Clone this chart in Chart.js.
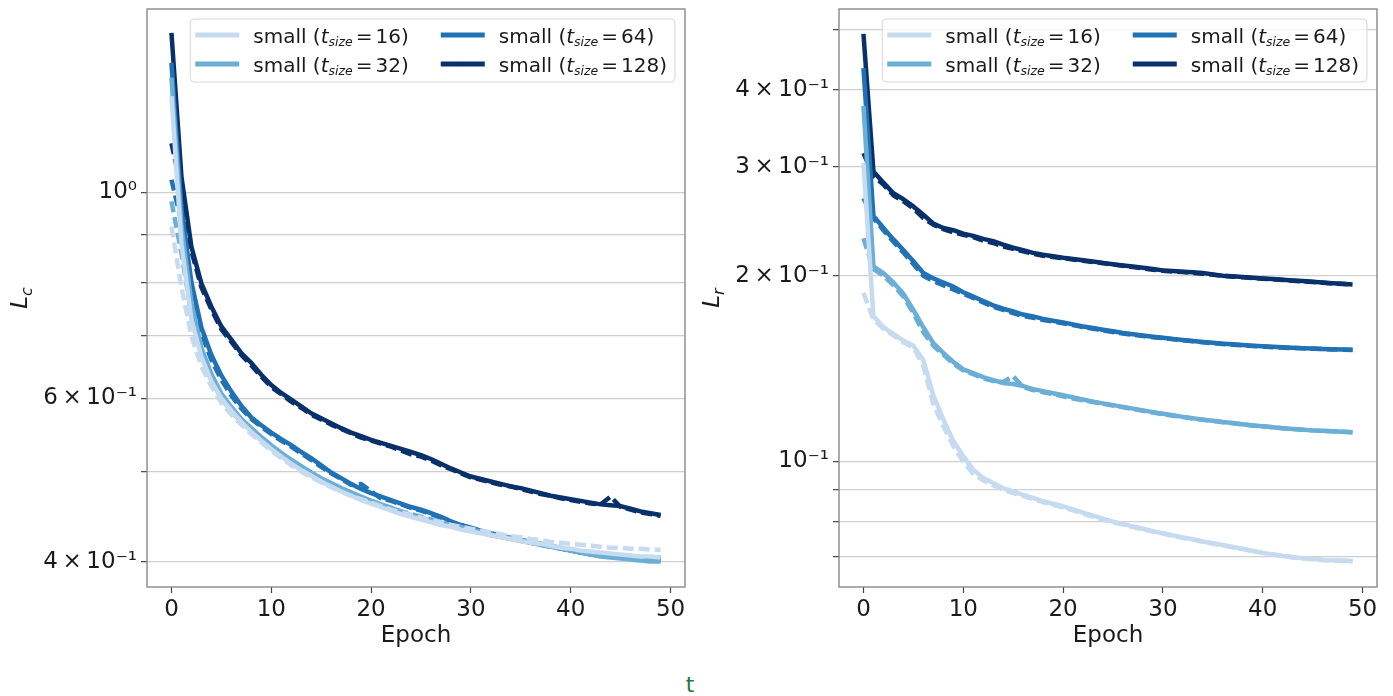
<!DOCTYPE html>
<html lang="en">

<head>
    <meta charset="UTF-8" />
    <title>Loss per epoch</title>
    <script src="https://cdn.jsdelivr.net/npm/chart.js"></script>
    <style>
        body { margin: 0; background: #fff; width: 1393px; height: 696px; position: relative; overflow: hidden; }
        .panel { position: absolute; top: 0; width: 692px; height: 660px; }
        #leftPanel { left: 0; }
        #rightPanel { left: 692px; }
        #caption { position: absolute; left: 670px; width: 40px; top: 674px; text-align: center;
                   font: 22px/22px 'DejaVu Sans', sans-serif; color: #1f7a35; }
    </style>
</head>

<body>
    <div class="panel" id="leftPanel"><canvas id="lcChart"></canvas></div>
    <div class="panel" id="rightPanel"><canvas id="lrChart"></canvas></div>
    <div id="caption">t</div>

    <script>
        const epochs = [0, 1, 2, 3, 4, 5, 6, 7, 8, 9, 10, 11, 12, 13, 14, 15, 16, 17, 18, 19,
            20, 21, 22, 23, 24, 25, 26, 27, 28, 29, 30, 31, 32, 33, 34, 35, 36, 37, 38, 39,
            40, 41, 42, 43, 44, 45, 46, 47, 48, 49];
        const tokenSizes = [16, 32, 64, 128];
        const seriesColors = ['#c6dbef', '#6baed6', '#2171b5', '#08306b'];
        const xTickValues = [0, 10, 20, 30, 40, 50];

        // y ticks: every value gets a grid line, only some get a label
        const lcTickValues = [0.4, 0.5, 0.6, 0.7, 0.8, 0.9, 1];
        const lcTickLabels = ['4\u2009×\u200910⁻¹', '', '6\u2009×\u200910⁻¹', '', '', '', '10⁰'];
        const lrTickValues = [0.07, 0.08, 0.09, 0.1, 0.2, 0.3, 0.4, 0.5];
        const lrTickLabels = ['', '', '', '10⁻¹', '2\u2009×\u200910⁻¹', '3\u2009×\u200910⁻¹', '4\u2009×\u200910⁻¹', ''];

        // L_c, solid and dashed runs
        const lc16 = [1.27, 0.88, 0.73, 0.665, 0.626, 0.600, 0.582, 0.566, 0.552, 0.540,
            0.529, 0.519, 0.510, 0.502, 0.495, 0.488, 0.482, 0.476, 0.471, 0.466,
            0.462, 0.458, 0.454, 0.450, 0.447, 0.444, 0.441, 0.438, 0.436, 0.433,
            0.431, 0.429, 0.427, 0.425, 0.423, 0.421, 0.419, 0.418, 0.416, 0.414,
            0.413, 0.411, 0.410, 0.409, 0.408, 0.407, 0.406, 0.405, 0.405, 0.404];
        const lc16Dashed = [0.919, 0.79, 0.70, 0.649, 0.618, 0.593, 0.576, 0.562, 0.549, 0.538,
            0.527, 0.517, 0.508, 0.500, 0.493, 0.487, 0.481, 0.476, 0.471, 0.467,
            0.463, 0.459, 0.455, 0.452, 0.449, 0.446, 0.443, 0.441, 0.438, 0.436,
            0.434, 0.432, 0.430, 0.428, 0.426, 0.425, 0.423, 0.422, 0.420, 0.419,
            0.418, 0.417, 0.416, 0.415, 0.414, 0.414, 0.413, 0.413, 0.412, 0.412];
        const lc32 = [1.33, 0.92, 0.76, 0.68, 0.637, 0.607, 0.587, 0.570, 0.557, 0.545,
            0.534, 0.524, 0.515, 0.507, 0.499, 0.492, 0.486, 0.480, 0.475, 0.470,
            0.465, 0.461, 0.457, 0.453, 0.449, 0.446, 0.443, 0.440, 0.437, 0.434,
            0.432, 0.430, 0.427, 0.425, 0.423, 0.421, 0.419, 0.417, 0.415, 0.413,
            0.411, 0.409, 0.407, 0.405, 0.404, 0.403, 0.402, 0.401, 0.400, 0.400];
        const lc32Dashed = [0.978, 0.86, 0.74, 0.668, 0.628, 0.600, 0.581, 0.566, 0.553, 0.542,
            0.531, 0.522, 0.513, 0.505, 0.498, 0.491, 0.485, 0.479, 0.474, 0.469,
            0.465, 0.461, 0.457, 0.453, 0.450, 0.447, 0.444, 0.441, 0.438, 0.436,
            0.433, 0.431, 0.428, 0.426, 0.424, 0.422, 0.420, 0.418, 0.416, 0.414,
            0.412, 0.410, 0.408, 0.407, 0.406, 0.405, 0.404, 0.403, 0.402, 0.402];
        const lc64 = [1.38, 0.96, 0.80, 0.715, 0.668, 0.635, 0.610, 0.589, 0.572, 0.561,
            0.551, 0.542, 0.534, 0.525, 0.517, 0.508, 0.499, 0.492, 0.485, 0.479,
            0.474, 0.470, 0.466, 0.462, 0.458, 0.455, 0.451, 0.447, 0.442, 0.438,
            0.435, 0.432, 0.429, 0.427, 0.424, 0.422, 0.420, 0.418, 0.416, 0.413,
            0.411, 0.409, 0.407, 0.406, 0.405, 0.404, 0.403, 0.402, 0.402, 0.401];
        const lc64Dashed = [1.032, 0.93, 0.79, 0.705, 0.660, 0.628, 0.604, 0.585, 0.570, 0.559,
            0.549, 0.540, 0.532, 0.523, 0.515, 0.506, 0.498, 0.491, 0.484, 0.485,
            0.476, 0.468, 0.465, 0.461, 0.457, 0.454, 0.450, 0.446, 0.441, 0.438,
            0.434, 0.431, 0.429, 0.426, 0.424, 0.422, 0.419, 0.417, 0.415, 0.413,
            0.411, 0.409, 0.408, 0.407, 0.406, 0.405, 0.405, 0.404, 0.404, 0.404];
        const lc128 = [1.486, 1.040, 0.874, 0.798, 0.753, 0.717, 0.694, 0.671, 0.655, 0.636,
            0.620, 0.608, 0.598, 0.588, 0.578, 0.571, 0.564, 0.557, 0.551, 0.546,
            0.541, 0.537, 0.533, 0.529, 0.525, 0.521, 0.516, 0.510, 0.504, 0.499,
            0.494, 0.491, 0.488, 0.485, 0.482, 0.480, 0.477, 0.474, 0.471, 0.469,
            0.467, 0.465, 0.463, 0.461, 0.460, 0.459, 0.456, 0.453, 0.451, 0.449];
        const lc128Dashed = [1.130, 1.010, 0.865, 0.790, 0.748, 0.712, 0.690, 0.668, 0.651, 0.633,
            0.617, 0.606, 0.595, 0.586, 0.576, 0.569, 0.562, 0.556, 0.550, 0.544,
            0.540, 0.536, 0.532, 0.527, 0.522, 0.519, 0.514, 0.508, 0.503, 0.498,
            0.493, 0.490, 0.487, 0.484, 0.482, 0.479, 0.476, 0.473, 0.471, 0.468,
            0.466, 0.464, 0.462, 0.461, 0.470, 0.458, 0.455, 0.452, 0.450, 0.448];

        // L_r, solid and dashed runs
        const lr16 = [0.3045, 0.172, 0.165, 0.161, 0.157, 0.154, 0.146, 0.128, 0.117, 0.108,
            0.102, 0.097, 0.094, 0.0923, 0.0905, 0.0894, 0.0883, 0.0873, 0.0862, 0.0854,
            0.0846, 0.0836, 0.0826, 0.0817, 0.0808, 0.0799, 0.0792, 0.0785, 0.0778, 0.0771,
            0.0765, 0.0759, 0.0753, 0.0748, 0.0742, 0.0737, 0.0732, 0.0727, 0.0722, 0.0716,
            0.0711, 0.0707, 0.0703, 0.0700, 0.0697, 0.0695, 0.0693, 0.0692, 0.0691, 0.0690];
        const lr16Dashed = [0.1875, 0.170, 0.164, 0.160, 0.156, 0.153, 0.143, 0.124, 0.114, 0.106,
            0.100, 0.0955, 0.0932, 0.0915, 0.0900, 0.0889, 0.0879, 0.0869, 0.0859, 0.0851,
            0.0843, 0.0833, 0.0823, 0.0814, 0.0805, 0.0797, 0.0790, 0.0783, 0.0776, 0.0770,
            0.0764, 0.0758, 0.0752, 0.0747, 0.0741, 0.0736, 0.0731, 0.0726, 0.0721, 0.0716,
            0.0711, 0.0707, 0.0703, 0.0699, 0.0696, 0.0694, 0.0692, 0.0691, 0.0690, 0.0689];
        const lr32 = [0.377, 0.207, 0.202, 0.195, 0.187, 0.176, 0.165, 0.1555, 0.150, 0.145,
            0.141, 0.139, 0.137, 0.1355, 0.134, 0.1335, 0.1325, 0.131, 0.130, 0.129,
            0.128, 0.127, 0.126, 0.125, 0.1242, 0.1234, 0.1226, 0.1218, 0.121, 0.1202,
            0.1195, 0.1188, 0.1181, 0.1175, 0.1169, 0.1164, 0.1159, 0.1154, 0.1149, 0.1144,
            0.114, 0.1136, 0.1132, 0.1129, 0.1126, 0.1123, 0.1121, 0.1119, 0.1117, 0.1115];
        const lr32Dashed = [0.230, 0.205, 0.200, 0.193, 0.185, 0.174, 0.162, 0.154, 0.149, 0.144,
            0.1405, 0.1385, 0.1365, 0.135, 0.1345, 0.1375, 0.132, 0.1305, 0.1295, 0.1285,
            0.1275, 0.1265, 0.1256, 0.1248, 0.124, 0.1232, 0.1224, 0.1216, 0.1208, 0.120,
            0.1193, 0.1186, 0.118, 0.1174, 0.1168, 0.1163, 0.1158, 0.1153, 0.1148, 0.1144,
            0.114, 0.1136, 0.1132, 0.1129, 0.1126, 0.1123, 0.1121, 0.1119, 0.1117, 0.1115];
        const lr64 = [0.434, 0.250, 0.239, 0.229, 0.220, 0.211, 0.202, 0.198, 0.195, 0.192,
            0.188, 0.185, 0.182, 0.179, 0.1768, 0.175, 0.173, 0.1718, 0.1702, 0.169,
            0.168, 0.1668, 0.1655, 0.1645, 0.1635, 0.1625, 0.1615, 0.1607, 0.160, 0.1593,
            0.1587, 0.158, 0.1574, 0.1568, 0.1562, 0.1557, 0.1552, 0.1548, 0.1544, 0.154,
            0.1537, 0.1534, 0.1531, 0.1528, 0.1526, 0.1524, 0.1522, 0.152, 0.1518, 0.1517];
        const lr64Dashed = [0.267, 0.248, 0.237, 0.227, 0.218, 0.209, 0.200, 0.196, 0.193, 0.190,
            0.187, 0.184, 0.181, 0.178, 0.176, 0.174, 0.172, 0.171, 0.1695, 0.1685,
            0.1675, 0.1663, 0.1651, 0.1641, 0.1631, 0.1621, 0.1612, 0.1604, 0.1597, 0.159,
            0.1584, 0.1578, 0.1572, 0.1566, 0.156, 0.1555, 0.155, 0.1546, 0.1542, 0.1538,
            0.1535, 0.1532, 0.1529, 0.1527, 0.1525, 0.1523, 0.1521, 0.1519, 0.1517, 0.1516];
        const lr128 = [0.493, 0.295, 0.283, 0.272, 0.266, 0.259, 0.251, 0.243, 0.239, 0.237,
            0.234, 0.232, 0.2295, 0.2275, 0.2245, 0.222, 0.220, 0.2178, 0.2162, 0.215,
            0.2138, 0.2128, 0.2118, 0.2108, 0.2098, 0.2088, 0.2078, 0.2069, 0.206, 0.2051,
            0.204, 0.2035, 0.203, 0.2025, 0.202, 0.201, 0.200, 0.1995, 0.199, 0.1985,
            0.198, 0.1975, 0.197, 0.1965, 0.196, 0.1955, 0.195, 0.1945, 0.194, 0.1935];
        const lr128Dashed = [0.316, 0.290, 0.281, 0.270, 0.264, 0.257, 0.248, 0.242, 0.238, 0.235,
            0.233, 0.231, 0.228, 0.226, 0.223, 0.221, 0.219, 0.217, 0.2155, 0.2145,
            0.2135, 0.2125, 0.2115, 0.2105, 0.2095, 0.2085, 0.2075, 0.2065, 0.2055, 0.2045,
            0.2038, 0.2032, 0.2027, 0.2021, 0.2015, 0.2007, 0.1998, 0.1993, 0.1988, 0.1983,
            0.1978, 0.1973, 0.1968, 0.1963, 0.1958, 0.1953, 0.1948, 0.1943, 0.1939, 0.1935];

        const FONT = "'DejaVu Sans', sans-serif";
        Chart.defaults.font.family = FONT;
        Chart.defaults.color = '#1a1a1a';

        // legend entry: small (t_size = N), drawn piece by piece for the subscript
        function drawEntryText(ctx, x, y, size, measureOnly) {
            const parts = [
                { t: 'small (', f: '20px ' + FONT, dy: 0, pad: 0 },
                { t: 't', f: 'italic 20px ' + FONT, dy: 0, pad: 0 },
                { t: 'size', f: 'italic 12.5px ' + FONT, dy: 3.5, pad: 3 },
                { t: '=', f: '20px ' + FONT, dy: 0, pad: 3 },
                { t: size + ')', f: '20px ' + FONT, dy: 0, pad: 0 }
            ];
            let cx = x;
            parts.forEach(p => {
                ctx.font = p.f;
                if (!measureOnly) ctx.fillText(p.t, cx, y + p.dy);
                cx += ctx.measureText(p.t).width + p.pad;
            });
            return cx - x;
        }

        const panelDecor = {
            id: 'panelDecor',
            afterDatasetsDraw(chart) {
                const { ctx, chartArea: a } = chart;
                ctx.save();
                // axes frame
                ctx.strokeStyle = '#808080';
                ctx.lineWidth = 1.3;
                ctx.strokeRect(a.left, a.top, a.right - a.left, a.bottom - a.top);

                // legend box, two columns, anchored to the upper right corner
                ctx.textBaseline = 'alphabetic';
                ctx.fillStyle = '#1a1a1a';
                const widths = tokenSizes.map(s => drawEntryText(ctx, 0, 0, s, true));
                const handle = 44, padL = 5, gap = 14, colGap = 32, padR = 8;
                const col1 = Math.max(widths[0], widths[1]);
                const col2 = Math.max(widths[2], widths[3]);
                const w = padL + handle + gap + col1 + colGap + handle + gap + col2 + padR;
                const h = 63;
                const x0 = a.right - 10 - w, y0 = a.top + 10;
                ctx.beginPath();
                ctx.roundRect(x0, y0, w, h, 4);
                ctx.fillStyle = 'rgba(255,255,255,0.8)';
                ctx.fill();
                ctx.strokeStyle = '#d6d6d6';
                ctx.lineWidth = 1;
                ctx.stroke();

                const colX = [x0 + padL, x0 + padL + handle + gap + col1 + colGap];
                const rowY = [y0 + 16, y0 + 45];
                tokenSizes.forEach((size, i) => {
                    const cx = colX[Math.floor(i / 2)], cy = rowY[i % 2];
                    ctx.strokeStyle = seriesColors[i];
                    ctx.lineWidth = 5;
                    ctx.beginPath();
                    ctx.moveTo(cx, cy);
                    ctx.lineTo(cx + handle, cy);
                    ctx.stroke();
                    ctx.fillStyle = '#1a1a1a';
                    drawEntryText(ctx, cx + handle + gap, cy + 7.7, size, false);
                });
                ctx.restore();
            },
            afterDraw(chart, args, opts) {
                // rotated y-axis title with an italic subscript
                const { ctx, chartArea: a } = chart;
                ctx.save();
                ctx.fillStyle = '#1a1a1a';
                ctx.textBaseline = 'alphabetic';
                ctx.font = 'italic 23px ' + FONT;
                const wMain = ctx.measureText(opts.symbol).width;
                ctx.font = 'italic 16px ' + FONT;
                const wSub = ctx.measureText(opts.sub).width;
                ctx.translate(27, (a.top + a.bottom) / 2 + (wMain + wSub) / 2);
                ctx.rotate(-Math.PI / 2);
                ctx.font = 'italic 23px ' + FONT;
                ctx.fillText(opts.symbol, 0, 0);
                ctx.font = 'italic 16px ' + FONT;
                ctx.fillText(opts.sub, wMain, 5);
                ctx.restore();
            }
        };

        function lineSet(values, color, dash) {
            return {
                data: epochs.map((e, i) => ({ x: e, y: values[i] })),
                borderColor: color,
                borderWidth: 4.5,
                borderDash: dash,
                borderCapStyle: 'butt',
                borderJoinStyle: 'round',
                pointRadius: 0,
                tension: 0,
                fill: false,
                clip: 0
            };
        }

        function makePanel(canvasId, solid, dashed, yMin, yMax, tickValues, tickLabels, symbol, sub) {
            const datasets = [];
            tokenSizes.forEach((size, i) => {
                datasets.push(lineSet(solid[i], seriesColors[i], []));
                datasets.push(lineSet(dashed[i], seriesColors[i], [11, 5]));
            });

            return new Chart(document.getElementById(canvasId), {
                type: 'line',
                data: { datasets: datasets },
                options: {
                    animation: false,
                    responsive: true,
                    maintainAspectRatio: false,
                    events: [],
                    layout: { padding: { top: 9, right: 7, bottom: 0, left: 0 } },
                    scales: {
                        x: {
                            type: 'linear', min: -2.45, max: 51.45, bounds: 'data',
                            afterBuildTicks: s => { s.ticks = xTickValues.map(v => ({ value: v })); },
                            afterFit: s => { s.height = 73; s.paddingLeft = 0; s.paddingRight = 0; },
                            grid: { drawOnChartArea: false, drawTicks: true, tickLength: 6, tickColor: '#444', tickWidth: 1.2 },
                            border: { display: false },
                            ticks: { font: { size: 23 }, padding: 3, maxRotation: 0, autoSkip: false },
                            title: { display: true, text: 'Epoch', font: { size: 23 }, padding: { top: 0, bottom: 10 } }
                        },
                        y: {
                            type: 'logarithmic', min: yMin, max: yMax, bounds: 'data',
                            afterBuildTicks: s => { s.ticks = tickValues.map(v => ({ value: v })); },
                            afterFit: s => { s.width = 147; s.paddingTop = 0; s.paddingBottom = 0; },
                            grid: { color: '#cfcfcf', lineWidth: 1.3, drawTicks: true, tickLength: 6, tickColor: '#444', tickWidth: 1.2 },
                            border: { display: false },
                            ticks: { font: { size: 23 }, padding: 4, autoSkip: false, callback: (v, i) => tickLabels[i] }
                        }
                    },
                    plugins: {
                        legend: { display: false },
                        tooltip: { enabled: false },
                        panelDecor: { symbol: symbol, sub: sub }
                    }
                },
                plugins: [panelDecor]
            });
        }

        makePanel('lcChart', [lc16, lc32, lc64, lc128], [lc16Dashed, lc32Dashed, lc64Dashed, lc128Dashed],
            0.3755, 1.577, lcTickValues, lcTickLabels, 'L', 'c');
        makePanel('lrChart', [lr16, lr32, lr64, lr128], [lr16Dashed, lr32Dashed, lr64Dashed, lr128Dashed],
            0.0626, 0.541, lrTickValues, lrTickLabels, 'L', 'r');
    </script>
</body>

</html>
